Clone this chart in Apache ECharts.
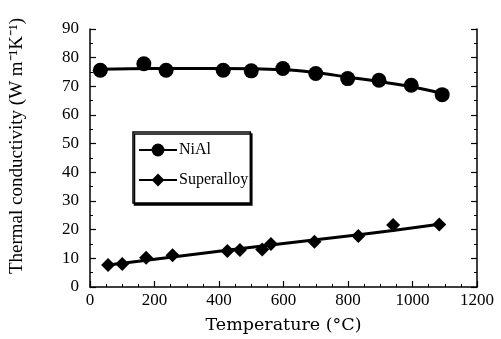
<!DOCTYPE html>
<html><head><meta charset="utf-8">
<script src="https://cdn.jsdelivr.net/npm/echarts@6/dist/echarts.min.js"></script>
<style>html,body{margin:0;padding:0;background:#fff}#c{width:501px;height:339px}</style>
</head><body><div id="c"></div><script>
// NiAl measured points
const nialTemp = [32, 167, 236, 413, 500, 598, 700, 799, 896, 996, 1092];
const nialK    = [75.6, 77.9, 75.6, 75.6, 75.4, 76.2, 74.5, 72.7, 72.1, 70.4, 67.1];
// NiAl fitted curve
const nialFitTemp = [32, 200, 400, 600, 700, 800, 900, 1000, 1094];
const nialFitK    = [76.0, 76.2, 76.2, 75.8, 74.8, 73.2, 71.6, 69.8, 67.5];
// Superalloy measured points
const superTemp = [56, 100, 174, 256, 426, 465, 534, 561, 696, 832, 940, 1083];
const superK    = [7.7, 8.0, 10.2, 11.1, 12.6, 12.9, 13.1, 15.0, 15.8, 17.8, 21.6, 21.8];
// Superalloy fitted line
const superFitTemp = [56, 300, 600, 840, 1083];
const superFitK    = [7.7, 11.1, 15.2, 18.3, 21.9];
// axis ticks
const xTicks = [0, 200, 400, 600, 800, 1000, 1200];
const yTicks = [0, 10, 20, 30, 40, 50, 60, 70, 80, 90];

const pair = (xs, ys) => xs.map((x, i) => [x, ys[i]]);
const font = 'Liberation Serif';
const black = '#000';

function axisStyle(minorSplit) {
  return {
    axisLine: {show: true, lineStyle: {color: black, width: 1.5}},
    axisTick: {show: true, inside: true, length: 6, lineStyle: {color: black, width: 1.2}},
    minorTick: {show: true, length: 3, splitNumber: minorSplit, lineStyle: {color: black, width: 1}},
    splitLine: {show: false},
    minorSplitLine: {show: false}
  };
}

const chart = echarts.init(document.getElementById('c'), null, {renderer: 'canvas'});
chart.setOption({
  animation: false,
  backgroundColor: '#fff',
  grid: {left: 88.5, right: 24, top: 29, bottom: 52, show: false},
  xAxis: Object.assign(axisStyle(4), {
    type: 'value', min: xTicks[0], max: xTicks[xTicks.length - 1], interval: xTicks[1] - xTicks[0],
    axisLabel: {color: black, fontFamily: font, fontSize: 17, margin: 5, formatter: v => String(v)},
    name: 'Temperature (°C)', nameLocation: 'middle', nameGap: 29,
    nameTextStyle: {color: black, fontFamily: 'DejaVu Serif', fontSize: 17.5}
  }),
  yAxis: [
    Object.assign(axisStyle(2), {
      type: 'value', position: 'left', min: yTicks[0], max: yTicks[yTicks.length - 1], interval: yTicks[1] - yTicks[0],
      axisLabel: {color: black, fontFamily: font, fontSize: 17, margin: 11, formatter: v => String(v)},
      name: 'Thermal conductivity (W m⁻¹K⁻¹)', nameLocation: 'middle', nameGap: 63,
      nameTextStyle: {color: black, fontFamily: font, fontSize: 19, padding: [0, 0, 0, 24]}
    }),
    Object.assign(axisStyle(2), {
      type: 'value', position: 'right', min: yTicks[0], max: yTicks[yTicks.length - 1], interval: yTicks[1] - yTicks[0],
      axisLabel: {show: false}
    })
  ],
  legend: {
    data: ['NiAl', 'Superalloy'],
    orient: 'vertical', left: 133, top: 132,
    itemWidth: 38, itemHeight: 16, itemGap: 14,
    padding: [10, 2, 15, 5],
    borderColor: black, borderWidth: 1.5, borderRadius: 0,
    backgroundColor: '#fff',
    shadowColor: black, shadowBlur: 0, shadowOffsetX: 1.5, shadowOffsetY: 2,
    textStyle: {color: black, fontFamily: font, fontSize: 16, padding: [0, 0, 0, -3]},
    selectedMode: false
  },
  series: [
    {name: 'NiAl', type: 'line', smooth: 0.4, symbol: 'circle', showSymbol: false,
     data: pair(nialFitTemp, nialFitK), lineStyle: {color: black, width: 3}, itemStyle: {color: black}, z: 2},
    {name: 'NiAl data', type: 'scatter', symbol: 'circle', symbolSize: 15,
     data: pair(nialTemp, nialK), itemStyle: {color: black, opacity: 1}, z: 3},
    {name: 'Superalloy', type: 'line', smooth: 0.3, symbol: 'diamond', showSymbol: false,
     data: pair(superFitTemp, superFitK), lineStyle: {color: black, width: 3}, itemStyle: {color: black}, z: 2},
    {name: 'Superalloy data', type: 'scatter', symbol: 'diamond', symbolSize: 14,
     data: pair(superTemp, superK), itemStyle: {color: black, opacity: 1}, z: 3}
  ]
});
</script></body></html>
